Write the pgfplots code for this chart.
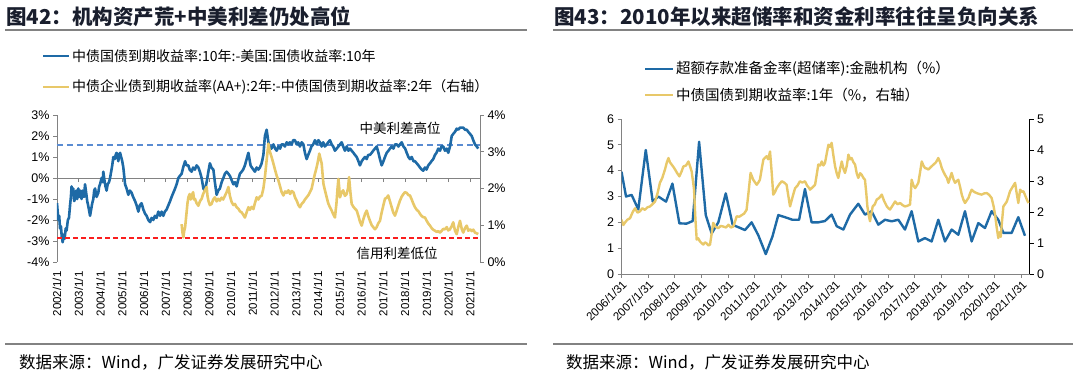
\documentclass[border=0pt]{standalone}
\usepackage{pgfplots}
\pgfplotsset{compat=1.18}
\usepackage{fontspec}
\setmainfont{Liberation Sans}
\newfontfamily\cjk{Noto Sans CJK SC}
\definecolor{sblue}{RGB}{30,106,166}
\definecolor{syellow}{RGB}{232,200,105}
\definecolor{dblue}{RGB}{90,140,210}
\definecolor{dred}{RGB}{250,30,30}
\definecolor{axgray}{RGB}{130,130,130}
\definecolor{ttl}{RGB}{25,30,45}
\pgfplotsset{every axis/.append style={/pgf/number format/assume math mode=true}}
\begin{document}
\begin{tikzpicture}[x=1pt,y=1pt]
\path[use as bounding box] (0,0) rectangle (1080,375);
% ---------- left panel text ----------
\node[anchor=west,inner sep=0,text=ttl] at (6,358) {\fontsize{20.5}{22}\selectfont\cjk\bfseries 图42：机构资产荒+中美利差仍处高位};
\draw[axgray,line width=1.2pt] (5,345) -- (527,345);
\draw[axgray,line width=1.2pt] (5,31) -- (527,31);
\node[anchor=west,inner sep=0] at (19,13) {\fontsize{16.5}{18}\selectfont\cjk 数据来源：Wind，广发证券发展研究中心};
\draw[sblue,line width=2pt] (43,319) -- (69,319);
\node[anchor=west,inner sep=0] at (72,319) {\fontsize{14}{15}\selectfont\cjk 中债国债到期收益率:10年:-美国:国债收益率:10年};
\draw[syellow,line width=2pt] (43,288) -- (69,288);
\node[anchor=west,inner sep=0] at (72,288) {\fontsize{14}{15}\selectfont\cjk 中债企业债到期收益率(AA+):2年:-中债国债到期收益率:2年（右轴）};
% ---------- right panel text ----------
\node[anchor=west,inner sep=0,text=ttl] at (554,358) {\fontsize{20.5}{22}\selectfont\cjk\bfseries 图43：2010年以来超储率和资金利率往往呈负向关系};
\draw[axgray,line width=1.2pt] (553,345) -- (1073,345);
\draw[axgray,line width=1.2pt] (553,31) -- (1073,31);
\node[anchor=west,inner sep=0] at (566,13) {\fontsize{16.5}{18}\selectfont\cjk 数据来源：Wind，广发证券发展研究中心};
\draw[sblue,line width=2pt] (645,306) -- (673,306);
\node[anchor=west,inner sep=0] at (676,306) {\fontsize{14.5}{15}\selectfont\cjk 超额存款准备金率(超储率):金融机构（\%）};
\draw[syellow,line width=2pt] (645,280) -- (673,280);
\node[anchor=west,inner sep=0] at (676,280) {\fontsize{14.5}{15}\selectfont\cjk 中债国债到期收益率:1年（\%，右轴）};

% ---------- left panel axes ----------
\begin{axis}[
 at={(57pt,113pt)}, anchor=south west, scale only axis,
 width=423pt, height=147pt,
 xmin=2002, xmax=2021.45, ymin=-4, ymax=3,
 axis x line*=middle, axis y line*=left,
 x axis line style={draw=axgray, line width=0.8pt},
 y axis line style={draw=axgray, line width=0.8pt},
 xtick={2002,...,2021},
 xticklabels={2002/1/1,2003/1/1,2004/1/1,2005/1/1,2006/1/1,2007/1/1,2008/1/1,2009/1/1,2010/1/1,2011/1/1,2012/1/1,2013/1/1,2014/1/1,2015/1/1,2016/1/1,2017/1/1,2018/1/1,2019/1/1,2020/1/1,2021/1/1},
 xticklabel style={rotate=90, anchor=east, font=\fontsize{11.5}{12}\selectfont},
 xticklabel shift=86pt,
 ytick={-4,-3,-2,-1,0,1,2,3},
 yticklabels={-4\%,-3\%,-2\%,-1\%,0\%,1\%,2\%,3\%},
 yticklabel style={font=\fontsize{12.5}{13}\selectfont},
 tick style={axgray, line width=0.8pt},
 tick align=outside, major tick length=4pt,
 hide obscured x ticks=false, hide obscured y ticks=false,
]
\addplot[dblue, dashed, line width=1.2pt, dash pattern=on 6pt off 4pt] coordinates {(2002,1.57) (2021.45,1.57)};
\addplot[sblue, line width=2.6pt, line join=round] coordinates {
(2002.00,-1.20) (2002.03,-1.6) (2002.06,-2.00) (2002.10,-1.8) (2002.14,-2.4) (2002.18,-2.3) (2002.22,-2.8) (2002.26,-3.06) (2002.30,-2.7) (2002.35,-2.9) (2002.40,-2.4) (2002.44,-2.5) (2002.50,-2.0) (2002.55,-1.9) (2002.60,-1.3) (2002.64,-0.9) (2002.67,-0.4) (2002.71,-0.8) (2002.75,-0.5) (2002.79,-1.1) (2002.83,-1.0) (2002.88,-0.6) (2002.93,-1.0) (2002.98,-0.5)
(2003.03,-0.9) (2003.08,-0.6) (2003.13,-1.0) (2003.18,-0.6) (2003.24,-0.9) (2003.29,-0.3) (2003.34,-0.7) (2003.39,-1.1) (2003.45,-1.4) (2003.52,-1.8) (2003.57,-1.5) (2003.62,-1.2) (2003.67,-1.0) (2003.71,-0.6) (2003.75,-0.5) (2003.82,-0.9) (2003.90,-0.7) (2003.94,-0.4) (2003.98,-0.3)
(2004.05,0.0) (2004.10,-0.2) (2004.13,0.3) (2004.18,-0.1) (2004.23,-0.4) (2004.28,-0.6) (2004.33,-0.3) (2004.39,-0.2) (2004.44,0.0) (2004.49,0.3) (2004.54,0.6) (2004.59,1.0) (2004.65,0.9) (2004.70,1.1) (2004.74,1.2) (2004.78,1.0) (2004.82,0.8) (2004.86,1.1) (2004.90,1.2) (2004.95,1.0)
(2005.00,0.8) (2005.05,0.5) (2005.09,0.1) (2005.13,-0.3) (2005.20,-0.5) (2005.28,-0.8) (2005.35,-0.6) (2005.43,-0.7) (2005.50,-0.9) (2005.59,-1.1) (2005.66,-1.3) (2005.74,-1.6) (2005.81,-1.3) (2005.89,-1.2) (2005.97,-1.5)
(2006.05,-1.7) (2006.12,-1.8) (2006.20,-2.0) (2006.28,-2.1) (2006.35,-1.9) (2006.43,-2.0) (2006.50,-1.8) (2006.58,-1.9) (2006.66,-1.6) (2006.74,-1.8) (2006.81,-1.6) (2006.89,-1.8) (2006.96,-1.6)
(2007.04,-1.5) (2007.12,-1.3) (2007.20,-1.1) (2007.27,-0.9) (2007.35,-0.7) (2007.43,-0.5) (2007.50,-0.3) (2007.58,0.0) (2007.65,0.1) (2007.73,0.2) (2007.80,0.5) (2007.89,0.8) (2007.96,0.6)
(2008.04,0.6) (2008.10,0.4) (2008.19,0.3) (2008.26,0.5) (2008.34,0.4) (2008.42,0.6) (2008.50,0.5) (2008.57,0.3) (2008.65,0.0) (2008.73,-0.5) (2008.80,-0.6) (2008.88,-0.2) (2008.96,0.3)
(2009.03,0.7) (2009.10,0.5) (2009.19,0.4) (2009.26,-0.2) (2009.34,-0.8) (2009.41,-0.6) (2009.49,-0.5) (2009.57,-0.2) (2009.65,0.0) (2009.72,0.2) (2009.80,0.3) (2009.88,0.2) (2009.95,0.1)
(2010.03,-0.1) (2010.11,-0.3) (2010.18,-0.2) (2010.26,-0.4) (2010.33,-0.1) (2010.41,0.2) (2010.49,0.3) (2010.56,0.4) (2010.64,0.6) (2010.72,0.9) (2010.80,1.2) (2010.85,0.9) (2010.90,0.6) (2010.96,0.5)
(2011.03,0.4) (2011.10,0.3) (2011.18,0.5) (2011.26,0.4) (2011.33,0.5) (2011.41,0.7) (2011.49,1.1) (2011.56,2.0) (2011.64,2.3) (2011.68,2.0) (2011.72,1.7) (2011.76,1.5) (2011.79,1.5) (2011.86,1.4) (2011.95,1.6)
(2012.03,1.4) (2012.10,1.3) (2012.18,1.5) (2012.26,1.4) (2012.33,1.6) (2012.41,1.6) (2012.48,1.5) (2012.56,1.7) (2012.63,1.6) (2012.71,1.7) (2012.79,1.6) (2012.86,1.8) (2012.94,1.8)
(2013.02,1.6) (2013.09,1.7) (2013.17,1.5) (2013.25,1.7) (2013.33,1.6) (2013.40,1.2) (2013.48,0.9) (2013.55,1.1) (2013.63,1.3) (2013.70,1.5) (2013.78,1.6) (2013.86,1.8) (2013.94,1.6)
(2014.02,1.8) (2014.09,1.7) (2014.17,1.5) (2014.24,1.7) (2014.32,1.5) (2014.40,1.6) (2014.47,1.7) (2014.55,1.8) (2014.63,1.6) (2014.70,1.5) (2014.78,1.3) (2014.86,1.4) (2014.94,1.5)
(2015.01,1.6) (2015.09,1.7) (2015.16,1.5) (2015.24,1.3) (2015.32,1.5) (2015.40,1.3) (2015.47,1.4) (2015.55,1.3) (2015.63,1.2) (2015.70,1.1) (2015.78,1.0) (2015.86,0.8) (2015.93,0.6)
(2016.01,0.8) (2016.08,0.9) (2016.16,1.0) (2016.24,0.9) (2016.31,1.1) (2016.39,1.1) (2016.47,1.2) (2016.54,1.3) (2016.62,1.4) (2016.70,1.5) (2016.78,1.2) (2016.85,0.9) (2016.93,0.6)
(2017.01,0.8) (2017.08,1.0) (2017.16,1.2) (2017.24,1.3) (2017.31,1.4) (2017.39,1.5) (2017.47,1.4) (2017.54,1.6) (2017.62,1.6) (2017.70,1.5) (2017.77,1.6) (2017.85,1.7) (2017.93,1.5)
(2018.01,1.4) (2018.08,1.2) (2018.16,1.0) (2018.23,0.9) (2018.31,1.0) (2018.39,0.8) (2018.46,0.8) (2018.54,0.7) (2018.62,0.6) (2018.69,0.5) (2018.77,0.4) (2018.84,0.35) (2018.92,0.5) (2018.99,0.4)
(2019.07,0.6) (2019.15,0.7) (2019.22,0.8) (2019.30,0.9) (2019.38,1.1) (2019.45,1.2) (2019.53,1.4) (2019.61,1.3) (2019.68,1.5) (2019.76,1.5) (2019.84,1.3) (2019.92,1.4) (2019.99,1.2)
(2020.07,1.5) (2020.15,2.0) (2020.22,2.1) (2020.30,2.2) (2020.38,2.35) (2020.45,2.3) (2020.53,2.4) (2020.61,2.4) (2020.68,2.4) (2020.76,2.3) (2020.84,2.3) (2020.91,2.2) (2020.99,2.1)
(2021.07,2.0) (2021.14,1.8) (2021.22,1.6) (2021.30,1.5) (2021.37,1.4)
};
\end{axis}
\begin{axis}[
 at={(57pt,113pt)}, anchor=south west, scale only axis,
 width=423pt, height=147pt,
 xmin=2002, xmax=2021.45, ymin=0, ymax=4,
 axis x line=none, axis y line*=right,
 y axis line style={draw=axgray, line width=0.8pt},
 ytick={0,1,2,3,4},
 yticklabels={0\%,1\%,2\%,3\%,4\%},
 yticklabel style={font=\fontsize{12.5}{13}\selectfont},
 tick style={axgray, line width=0.8pt},
 tick align=outside, major tick length=4pt,
]
\addplot[dred, line width=1.8pt, dash pattern=on 5pt off 3pt] coordinates {(2002,0.66) (2021.45,0.66)};
\addplot[syellow, line width=2.6pt, line join=round] coordinates {
(2007.73,1.03) (2007.77,0.80) (2007.81,0.67) (2007.85,0.85) (2007.89,0.94) (2007.95,1.3) (2008.00,1.6) (2008.04,1.76) (2008.10,1.85) (2008.15,1.7) (2008.19,1.8) (2008.26,1.9) (2008.30,1.7) (2008.34,1.72) (2008.42,1.6) (2008.50,1.53) (2008.57,1.65) (2008.65,1.72) (2008.72,1.85) (2008.80,1.95) (2008.88,2.04) (2008.92,1.8) (2008.96,1.67)
(2009.03,1.55) (2009.11,1.58) (2009.18,1.7) (2009.26,1.76) (2009.34,1.65) (2009.41,1.72) (2009.49,1.67) (2009.57,1.75) (2009.64,1.7) (2009.72,1.8) (2009.80,1.9) (2009.88,2.04) (2009.95,1.8)
(2010.03,1.63) (2010.11,1.55) (2010.18,1.58) (2010.26,1.49) (2010.34,1.45) (2010.41,1.38) (2010.49,1.35) (2010.57,1.28) (2010.64,1.21) (2010.72,1.35) (2010.80,1.49) (2010.87,1.42) (2010.95,1.50)
(2011.03,1.44) (2011.10,1.6) (2011.18,1.76) (2011.26,1.7) (2011.33,1.78) (2011.41,1.8) (2011.49,2.0) (2011.56,2.31) (2011.64,2.77) (2011.72,3.22) (2011.79,3.0) (2011.87,2.85) (2011.95,2.68)
(2012.03,2.5) (2012.10,2.35) (2012.18,2.22) (2012.26,2.05) (2012.33,1.9) (2012.41,1.81) (2012.49,1.92) (2012.56,1.88) (2012.64,1.95) (2012.72,1.85) (2012.79,1.93) (2012.87,1.9) (2012.95,1.75)
(2013.02,1.67) (2013.10,1.55) (2013.17,1.49) (2013.25,1.58) (2013.33,1.63) (2013.40,1.7) (2013.48,1.76) (2013.56,1.82) (2013.63,1.9) (2013.71,2.0) (2013.79,2.22) (2013.86,2.4) (2013.94,2.58)
(2014.00,2.75) (2014.06,2.95) (2014.12,2.8) (2014.17,2.68) (2014.21,2.4) (2014.25,2.13) (2014.32,1.95) (2014.40,1.76) (2014.47,1.6) (2014.55,1.49) (2014.63,1.4) (2014.70,1.3) (2014.78,1.21) (2014.85,1.6) (2014.90,2.0) (2014.94,2.26) (2014.98,2.0)
(2015.01,1.76) (2015.09,1.9) (2015.16,1.95) (2015.24,1.8) (2015.32,1.85) (2015.38,2.0) (2015.43,2.31) (2015.49,1.9) (2015.55,1.58) (2015.63,1.5) (2015.70,1.45) (2015.78,1.40) (2015.86,1.25) (2015.93,1.10)
(2016.01,0.99) (2016.08,1.15) (2016.16,1.30) (2016.24,1.40) (2016.31,1.25) (2016.39,1.12) (2016.47,1.0) (2016.54,0.95) (2016.62,0.89) (2016.70,0.95) (2016.77,1.05) (2016.85,1.12) (2016.93,1.35)
(2017.01,1.55) (2017.08,1.72) (2017.16,1.75) (2017.23,1.81) (2017.31,1.65) (2017.39,1.49) (2017.46,1.35) (2017.54,1.26) (2017.62,1.4) (2017.70,1.55) (2017.77,1.67) (2017.85,1.78) (2017.93,1.85)
(2018.00,1.90) (2018.08,1.88) (2018.16,1.82) (2018.23,1.81) (2018.31,1.7) (2018.39,1.58) (2018.46,1.49) (2018.54,1.42) (2018.62,1.38) (2018.69,1.31) (2018.77,1.25) (2018.84,1.22) (2018.92,1.21)
(2019.00,1.12) (2019.07,1.05) (2019.15,0.99) (2019.23,0.92) (2019.30,0.88) (2019.38,0.85) (2019.46,0.82) (2019.53,0.84) (2019.61,0.80) (2019.69,0.85) (2019.76,0.9) (2019.84,0.89) (2019.92,0.95) (2019.99,0.86)
(2020.07,0.89) (2020.15,0.98) (2020.22,1.08) (2020.30,0.85) (2020.38,0.76) (2020.45,0.95) (2020.53,1.12) (2020.61,0.9) (2020.68,0.80) (2020.76,0.92) (2020.84,0.99) (2020.91,0.85) (2020.99,0.89)
(2021.07,0.84) (2021.14,0.88) (2021.22,0.80) (2021.30,0.78) (2021.37,0.76)
};
\end{axis}
\node at (400,247) {\fontsize{13.5}{14}\selectfont\cjk 中美利差高位};
\node at (397,122) {\fontsize{13.5}{14}\selectfont\cjk 信用利差低位};

% ---------- right panel axes ----------
\begin{axis}[
 at={(621.5pt,101pt)}, anchor=south west, scale only axis,
 width=408pt, height=155pt,
 xmin=2006, xmax=2021.3, ymin=0, ymax=6,
 axis x line*=bottom, axis y line*=left,
 x axis line style={draw=axgray, line width=0.8pt},
 y axis line style={draw=axgray, line width=0.8pt},
 xtick={2006,...,2021},
 xticklabels={2006/1/31,2007/1/31,2008/1/31,2009/1/31,2010/1/31,2011/1/31,2012/1/31,2013/1/31,2014/1/31,2015/1/31,2016/1/31,2017/1/31,2018/1/31,2019/1/31,2020/1/31,2021/1/31},
 xticklabel style={rotate=45, anchor=north east, font=\fontsize{11.5}{12}\selectfont, inner sep=1pt},
 ytick={0,1,2,3,4,5,6},
 yticklabel style={font=\fontsize{12.5}{13}\selectfont},
 tick style={axgray, line width=0.8pt},
 tick align=outside, major tick length=4pt,
]
\addplot[sblue, line width=2.4pt, line join=round] coordinates {
(2006.0,3.96) (2006.17,3.0) (2006.38,3.06) (2006.63,2.5) (2006.91,4.8) (2007.17,2.8) (2007.38,3.0) (2007.67,2.8) (2007.91,3.5) (2008.17,1.96) (2008.44,1.95) (2008.67,2.05) (2008.91,5.12) (2009.16,2.28) (2009.38,1.57) (2009.63,2.0) (2009.91,3.12) (2010.17,1.9) (2010.41,1.8) (2010.63,1.7) (2010.88,2.0) (2011.13,1.5) (2011.41,0.77) (2011.66,1.45) (2011.88,2.28) (2012.13,2.2) (2012.41,2.1) (2012.66,2.1) (2012.88,3.29) (2013.13,2.0) (2013.38,2.0) (2013.63,2.05) (2013.88,2.3) (2014.07,1.85) (2014.32,1.72) (2014.57,2.3) (2014.88,2.72) (2015.13,2.3) (2015.38,2.43) (2015.63,1.91) (2015.88,2.1) (2016.13,2.04) (2016.38,2.1) (2016.63,1.72) (2016.88,2.43) (2017.13,1.26) (2017.38,1.39) (2017.63,1.26) (2017.88,2.1) (2018.13,1.26) (2018.38,1.72) (2018.63,1.52) (2018.88,2.43) (2019.13,1.26) (2019.38,1.97) (2019.63,1.78) (2019.88,2.43) (2020.13,2.1) (2020.32,1.59) (2020.63,1.59) (2020.88,2.2) (2021.13,1.48)
};
\end{axis}
\begin{axis}[
 at={(621.5pt,101pt)}, anchor=south west, scale only axis,
 width=408pt, height=155pt,
 xmin=2006, xmax=2021.3, ymin=0, ymax=5,
 axis x line=none, axis y line*=right,
 y axis line style={draw=black, line width=0.8pt},
 ytick={0,1,2,3,4,5},
 yticklabel style={font=\fontsize{12.5}{13}\selectfont},
 tick style={black, line width=0.8pt},
 tick align=outside, major tick length=4pt,
]
\addplot[syellow, line width=2.4pt, line join=round] coordinates {
(2006.0,1.75) (2006.07,1.58) (2006.13,1.66) (2006.22,1.75) (2006.32,1.8) (2006.42,2.0) (2006.51,2.12) (2006.60,1.98) (2006.69,2.02) (2006.78,2.12) (2006.88,2.07) (2006.97,2.15) (2007.07,2.18) (2007.16,2.25) (2007.26,2.34) (2007.35,2.6) (2007.44,2.94) (2007.53,3.1) (2007.63,3.37) (2007.70,3.6) (2007.76,3.74) (2007.82,3.6) (2007.88,3.53) (2007.95,3.45) (2008.01,3.37) (2008.09,3.25) (2008.17,3.15) (2008.25,3.3) (2008.32,3.47) (2008.42,3.5) (2008.51,3.63) (2008.58,3.45) (2008.63,3.31) (2008.68,3.0) (2008.72,2.72) (2008.77,1.8) (2008.82,1.11) (2008.88,1.15) (2008.94,1.05) (2009.00,1.0) (2009.07,0.95) (2009.13,1.02) (2009.19,0.99) (2009.26,0.92) (2009.32,0.95) (2009.38,1.3) (2009.44,1.65) (2009.53,1.52) (2009.63,1.48) (2009.72,1.55) (2009.82,1.53) (2009.92,1.5) (2010.01,1.59) (2010.10,1.5) (2010.19,1.53) (2010.26,1.7) (2010.32,1.86) (2010.42,1.85) (2010.51,1.9) (2010.60,1.95) (2010.69,2.07) (2010.76,2.6) (2010.84,3.26) (2010.89,3.15) (2010.94,3.04) (2011.01,2.95) (2011.07,2.88) (2011.13,2.95) (2011.19,3.04) (2011.26,3.4) (2011.32,3.69) (2011.38,3.75) (2011.44,3.8) (2011.50,3.7) (2011.57,3.95) (2011.63,3.3) (2011.69,2.56) (2011.76,2.65) (2011.82,2.77) (2011.92,2.9) (2012.01,2.99) (2012.10,2.95) (2012.19,2.88) (2012.26,2.5) (2012.32,2.18) (2012.42,2.5) (2012.51,2.77) (2012.60,2.85) (2012.69,2.99) (2012.78,2.95) (2012.88,2.99) (2012.96,2.85) (2013.04,2.77) (2013.07,2.72) (2013.17,2.8) (2013.26,2.88) (2013.32,3.2) (2013.38,3.53) (2013.45,3.5) (2013.51,3.63) (2013.57,3.5) (2013.63,3.58) (2013.70,3.9) (2013.76,4.17) (2013.82,4.1) (2013.88,4.23) (2013.95,3.8) (2014.01,3.47) (2014.07,3.25) (2014.13,3.1) (2014.20,3.4) (2014.26,3.63) (2014.32,3.4) (2014.38,3.26) (2014.45,3.5) (2014.51,3.85) (2014.57,3.7) (2014.63,3.74) (2014.70,3.6) (2014.76,3.53) (2014.82,3.25) (2014.88,3.1) (2014.95,3.25) (2015.01,3.2) (2015.07,3.1) (2015.13,3.04) (2015.18,2.6) (2015.22,2.18) (2015.27,1.9) (2015.32,1.7) (2015.37,1.95) (2015.42,2.18) (2015.50,2.25) (2015.57,2.4) (2015.66,2.45) (2015.76,2.56) (2015.85,2.35) (2015.95,2.18) (2016.01,2.12) (2016.07,2.08) (2016.16,2.2) (2016.26,2.34) (2016.35,2.25) (2016.45,2.29) (2016.54,2.22) (2016.63,2.18) (2016.72,2.2) (2016.82,2.24) (2016.85,2.6) (2016.88,3.04) (2016.95,2.85) (2017.01,2.77) (2017.07,2.85) (2017.13,2.94) (2017.20,3.3) (2017.26,3.63) (2017.32,3.5) (2017.38,3.42) (2017.45,3.4) (2017.51,3.37) (2017.60,3.45) (2017.70,3.53) (2017.79,3.6) (2017.88,3.74) (2017.95,3.6) (2018.01,3.42) (2018.07,3.3) (2018.13,3.2) (2018.20,3.1) (2018.26,2.94) (2018.32,3.1) (2018.38,3.26) (2018.45,3.05) (2018.51,2.94) (2018.57,3.0) (2018.63,3.04) (2018.70,2.8) (2018.76,2.56) (2018.82,2.4) (2018.88,2.29) (2018.95,2.38) (2019.01,2.45) (2019.07,2.6) (2019.13,2.72) (2019.22,2.65) (2019.32,2.61) (2019.42,2.58) (2019.51,2.56) (2019.60,2.6) (2019.70,2.61) (2019.79,2.55) (2019.88,2.45) (2019.95,2.2) (2020.01,1.91) (2020.07,1.5) (2020.13,1.16) (2020.18,1.35) (2020.22,1.2) (2020.27,1.7) (2020.32,2.18) (2020.38,2.25) (2020.45,2.34) (2020.51,2.5) (2020.57,2.67) (2020.66,2.8) (2020.76,2.94) (2020.82,2.6) (2020.88,2.29) (2020.95,2.72) (2021.01,2.65) (2021.07,2.67) (2021.13,2.55) (2021.20,2.4) (2021.26,2.29)
};
\end{axis}
\end{tikzpicture}
\end{document}
